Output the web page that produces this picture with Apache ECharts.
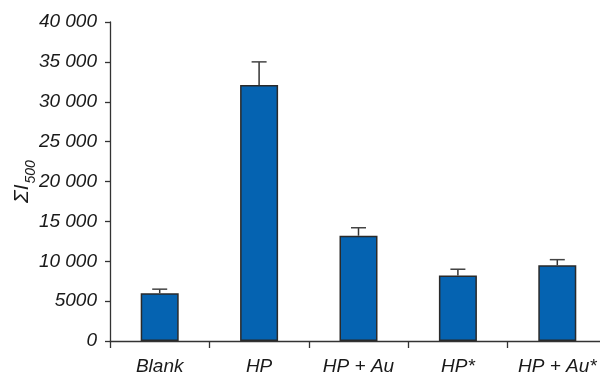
<!DOCTYPE html>
<html>
<head>
<meta charset="utf-8">
<script src="https://cdn.jsdelivr.net/npm/echarts@6/dist/echarts.min.js"></script>
<style>html,body{margin:0;padding:0;background:#fff}#c{width:600px;height:375px}</style>
</head>
<body>
<div id="c"></div>
<script>
const categories = ['Blank', 'HP', 'HP + Au', 'HP*', 'HP + Au*'];
const values = [6000, 32100, 13200, 8200, 9500];
const errorTops = [6500, 35000, 14200, 9000, 10200];
const yTickLabels = {0: '0', 5000: '5000', 10000: '10 000', 15000: '15 000', 20000: '20 000', 25000: '25 000', 30000: '30 000', 35000: '35 000', 40000: '40 000'};

const FONT = '"Liberation Sans", Arial, sans-serif';
const chart = echarts.init(document.getElementById('c'), null, {renderer: 'canvas'});
chart.setOption({
  animation: false,
  backgroundColor: '#fff',
  grid: {left: 110, top: 22, width: 497, height: 319, containLabel: false, outerBoundsMode: 'none'},
  xAxis: {
    type: 'category',
    data: categories,
    axisLine: {lineStyle: {color: '#333', width: 1.3}},
    axisTick: {show: true, length: 7, alignWithLabel: false, lineStyle: {color: '#333', width: 1.3}},
    axisLabel: {fontFamily: FONT, fontStyle: 'italic', fontSize: 19, color: '#1a1a1a', margin: 16, interval: 0}
  },
  yAxis: {
    type: 'value',
    min: 0, max: 40000, interval: 5000,
    splitLine: {show: false},
    axisLine: {show: true, lineStyle: {color: '#333', width: 1.3}},
    axisTick: {show: true, length: 5, lineStyle: {color: '#333', width: 1.3}},
    axisLabel: {fontFamily: FONT, fontStyle: 'italic', fontSize: 19, color: '#1a1a1a', margin: 13,
      formatter: v => yTickLabels[v] !== undefined ? yTickLabels[v] : String(v)},
    name: '{a|ΣI}{b|500}',
    nameLocation: 'middle',
    nameRotate: 90,
    nameGap: 77,
    nameMoveOverlap: false,
    nameTextStyle: {
      rich: {
        a: {fontFamily: FONT, fontStyle: 'italic', fontSize: 21, color: '#1a1a1a', verticalAlign: 'bottom'},
        b: {fontFamily: FONT, fontStyle: 'italic', fontSize: 14, color: '#1a1a1a', verticalAlign: 'bottom', padding: [0, 0, -5, 1]}
      }
    }
  },
  series: [
    {
      type: 'bar',
      data: values,
      barWidth: 38,
      itemStyle: {color: '#0563b1', borderColor: '#2a2a2a', borderWidth: 1.5},
      z: 2
    },
    {
      type: 'custom',
      z: 3,
      data: categories.map((c, i) => [i, values[i], errorTops[i]]),
      renderItem: function (params, api) {
        const base = api.coord([api.value(0), api.value(1)]);
        const top = api.coord([api.value(0), api.value(2)]);
        const x = base[0];
        const half = 7.5;
        return {
          type: 'group',
          children: [
            {type: 'line', shape: {x1: x, y1: base[1], x2: x, y2: top[1]}, style: {stroke: '#333', lineWidth: 1.5}},
            {type: 'line', shape: {x1: x - half, y1: top[1], x2: x + half, y2: top[1]}, style: {stroke: '#444', lineWidth: 1.5}}
          ]
        };
      }
    }
  ]
});
</script>
</body>
</html>
